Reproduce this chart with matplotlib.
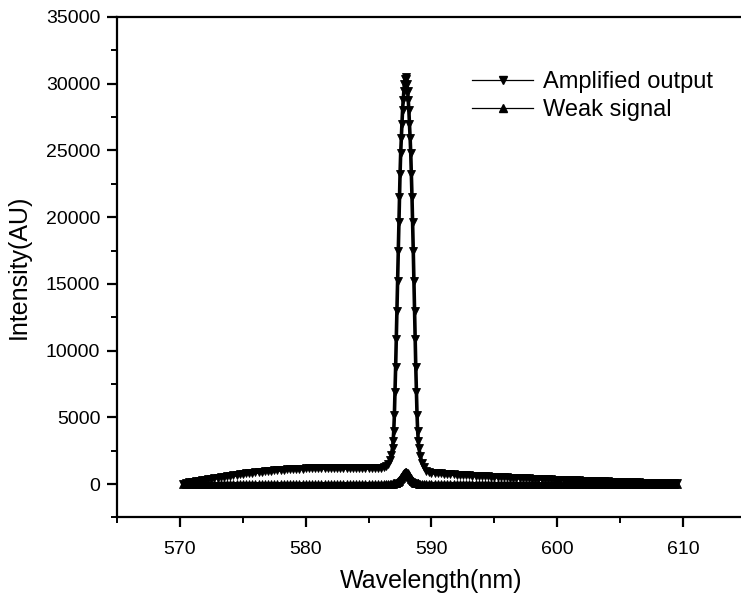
import matplotlib
matplotlib.use("Agg")
import matplotlib.pyplot as plt
from matplotlib.lines import Line2D
from matplotlib.ticker import MultipleLocator

plt.rcParams['font.family'] = ['Liberation Sans', 'DejaVu Sans']

# Wavelength samples (nm), shared by both spectra
wavelength = [
    570.25, 570.5, 570.75, 571.0, 571.25, 571.5, 571.75, 572.0, 572.25, 572.5,
    572.75, 573.0, 573.25, 573.5, 573.75, 574.0, 574.25, 574.5, 574.75, 575.0,
    575.25, 575.5, 575.75, 576.0, 576.25, 576.5, 576.75, 577.0, 577.25, 577.5,
    577.75, 578.0, 578.25, 578.5, 578.75, 579.0, 579.25, 579.5, 579.75, 580.0,
    580.25, 580.5, 580.75, 581.0, 581.25, 581.5, 581.75, 582.0, 582.25, 582.5,
    582.75, 583.0, 583.25, 583.5, 583.75, 584.0, 584.25, 584.5, 584.75, 585.0,
    585.25, 585.5,
    585.75, 586.0, 586.2, 586.4, 586.55, 586.7, 586.8, 586.9, 586.95, 587.0,
    587.05, 587.1, 587.15, 587.2, 587.25, 587.3, 587.35, 587.4, 587.45, 587.5,
    587.55, 587.6, 587.65, 587.7, 587.75, 587.8, 587.85, 587.9, 587.95, 588.0,
    588.05, 588.1, 588.15, 588.2, 588.25, 588.3, 588.35, 588.4, 588.45, 588.5,
    588.55, 588.6, 588.65, 588.7, 588.75, 588.8, 588.85, 588.9, 588.95, 589.0,
    589.1, 589.25, 589.4, 589.6, 589.8,
    590.0, 590.25, 590.5, 590.75, 591.0, 591.25, 591.5, 591.75, 592.0, 592.25,
    592.5, 592.75, 593.0, 593.25, 593.5, 593.75, 594.0, 594.25, 594.5, 594.75,
    595.0, 595.25, 595.5, 595.75, 596.0, 596.25, 596.5, 596.75, 597.0, 597.25,
    597.5, 597.75, 598.0, 598.25, 598.5, 598.75, 599.0, 599.25, 599.5, 599.75,
    600.0, 600.25, 600.5, 600.75, 601.0, 601.25, 601.5, 601.75, 602.0, 602.25,
    602.5, 602.75, 603.0, 603.25, 603.5, 603.75, 604.0, 604.25, 604.5, 604.75,
    605.0, 605.25, 605.5, 605.75, 606.0, 606.25, 606.5, 606.75, 607.0, 607.25,
    607.5, 607.75, 608.0, 608.25, 608.5, 608.75, 609.0, 609.25, 609.5,
]

# Amplified output intensity (AU)
amplified = [
    30, 80, 120, 160, 200, 240, 280, 320, 360, 400,
    440, 480, 515, 550, 590, 625, 660, 695, 730, 760,
    790, 820, 850, 880, 905, 930, 955, 980, 1000, 1020,
    1040, 1060, 1080, 1095, 1110, 1125, 1140, 1150, 1160, 1170,
    1180, 1185, 1190, 1195, 1200, 1200, 1205, 1205, 1205, 1200,
    1200, 1195, 1195, 1190, 1190, 1185, 1185, 1185, 1190, 1190,
    1195, 1205,
    1215, 1230, 1260, 1370, 1520, 1820, 2170, 2700, 3200, 4000,
    5200, 6900, 8800, 10900, 13000, 15250, 17500, 19600, 21500, 23250,
    24800, 25950, 27000, 28000, 28800, 29450, 30000, 30350, 30500, 30350,
    30000, 29450, 28800, 28000, 27000, 25950, 24800, 23250, 21500, 19600,
    17500, 15250, 13000, 10900, 8800, 6900, 5200, 4000, 3200, 2700,
    2100, 1600, 1250, 1000, 900,
    860, 830, 810, 790, 770, 755, 740, 725, 710, 695,
    680, 665, 650, 635, 620, 607, 595, 582, 570, 557,
    545, 532, 520, 508, 496, 485, 474, 463, 452, 441,
    430, 420, 410, 400, 390, 380, 370, 360, 350, 340,
    330, 320, 311, 302, 293, 284, 275, 266, 257, 248,
    240, 232, 224, 216, 208, 200, 192, 184, 176, 168,
    160, 153, 146, 139, 132, 125, 118, 111, 104, 97,
    90, 84, 78, 72, 66, 60, 54, 48, 42,
]

# Weak signal intensity (AU)
weak = [
    30, 25, 22, 20, 18, 20, 22, 18, 15, 18,
    20, 22, 18, 16, 15, 18, 20, 17, 15, 16,
    18, 20, 18, 15, 14, 16, 18, 20, 18, 16,
    15, 17, 19, 18, 16, 15, 17, 19, 20, 18,
    16, 15, 17, 19, 20, 18, 17, 16, 18, 20,
    21, 19, 18, 17, 19, 20, 21, 22, 21, 20,
    22, 24,
    25, 28, 30, 32, 34, 36, 38, 40, 42, 46,
    50, 58, 70, 95, 125, 165, 210, 265, 330, 400,
    470, 545, 620, 690, 760, 820, 860, 890, 900, 890,
    860, 820, 760, 690, 620, 545, 470, 400, 330, 265,
    210, 165, 125, 95, 70, 58, 50, 46, 42, 40,
    38, 35, 32, 30, 28,
    27, 26, 25, 25, 24, 23, 24, 25, 24, 22,
    21, 22, 23, 22, 20, 19, 20, 21, 20, 19,
    18, 19, 20, 19, 18, 17, 18, 19, 18, 17,
    16, 17, 18, 17, 16, 15, 16, 17, 16, 15,
    14, 15, 16, 15, 14, 13, 14, 15, 14, 13,
    12, 13, 14, 13, 12, 11, 12, 13, 12, 11,
    10, 11, 12, 11, 10, 9, 10, 11, 10, 9,
    8, 9, 10, 9, 8, 7, 8, 9, 8,
]

series_labels = ["Amplified output", "Weak signal"]

fig = plt.figure(figsize=(7.41, 5.97), dpi=100)
ax = fig.add_axes([117 / 741, 1 - 517.4 / 597, 629 / 741, 500.4 / 597])

ax.plot(wavelength, amplified, color="black", lw=2.6, marker="v", ms=6.2,
        mfc="black", mec="black", mew=0.6)
ax.plot(wavelength, weak, color="black", lw=2.6, marker="^", ms=6.2,
        mfc="black", mec="black", mew=0.6)

ax.set_xlim(565, 615)
ax.set_ylim(-2500, 35000)
ax.xaxis.set_major_locator(MultipleLocator(10))
ax.xaxis.set_minor_locator(MultipleLocator(5))
ax.yaxis.set_major_locator(MultipleLocator(5000))
ax.yaxis.set_minor_locator(MultipleLocator(2500))

for side in ("left", "bottom", "top"):
    ax.spines[side].set_linewidth(1.6)
ax.spines["right"].set_visible(False)

ax.tick_params(axis="both", which="major", direction="out", length=7, width=1.6,
               labelsize=14, pad=5)
ax.tick_params(axis="x", which="major", pad=10)
ax.tick_params(axis="both", which="minor", direction="out", length=4, width=1.4)
ax.tick_params(top=False, right=False, which="both")

ax.set_xlabel("Wavelength(nm)", fontsize=18, labelpad=8)
ax.set_ylabel("Intensity(AU)", fontsize=18, labelpad=11)

handles = [
    Line2D([], [], color="black", lw=0.9, marker="v", ms=5.5),
    Line2D([], [], color="black", lw=0.9, marker="^", ms=5.5),
]
fig.legend(handles, series_labels, loc="upper left",
           bbox_to_anchor=(472 / 741, 1 - 71 / 597), frameon=False,
           fontsize=17, handlelength=2.6, handletextpad=0.42,
           labelspacing=0.27, borderpad=0, borderaxespad=0)

fig.savefig("out.png", dpi=100)
